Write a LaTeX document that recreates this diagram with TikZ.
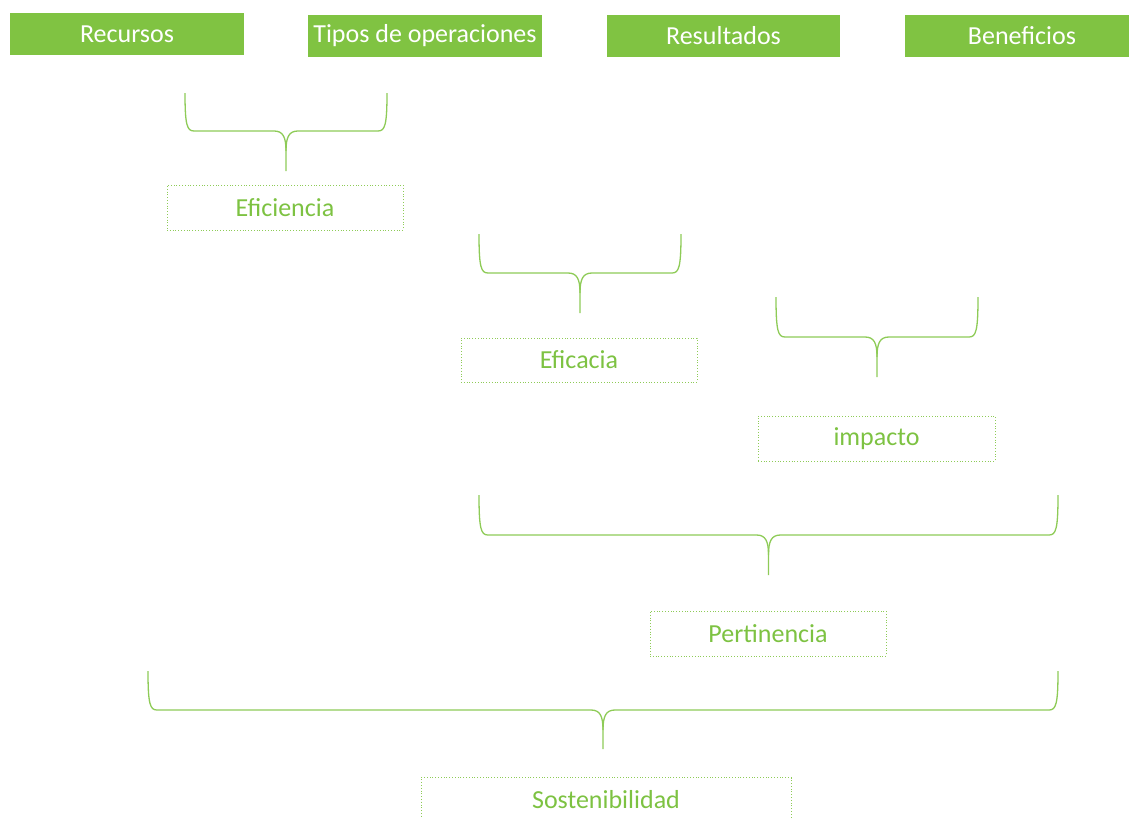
\documentclass[tikz,border=0pt]{standalone}
\usepackage{fontspec}
\setmainfont{Carlito}
\usepackage{tikz}
\definecolor{headGreen}{HTML}{80C342}
\definecolor{lineGreen}{HTML}{8ECB57}
\definecolor{textGreen}{HTML}{7DC242}

\begin{document}
\begin{tikzpicture}[
    x=1pt, y=-1pt,
    header/.style={rectangle, fill=headGreen, text=white, minimum width=234pt,
                   minimum height=42pt, inner sep=0pt, font=\fontsize{26}{31}\selectfont},
    result/.style={rectangle, draw=lineGreen, dotted, line width=0.8pt, text=textGreen,
                   minimum width=236pt, minimum height=45pt, inner sep=0pt,
                   font=\fontsize{26}{31}\selectfont},
    bracket/.style={draw=lineGreen, line width=1.3pt},
]
    \useasboundingbox (0,0) rectangle (1129,817);

    % Top row: headings
    \node[header] (recursos) at (127,34) {Recursos};
    \node[header] (tipos) at (425,36) {Tipos de operaciones};
    \node[header, minimum width=233pt] (resultados) at (723.5,36) {Resultados};
    \node[header] (beneficios) at (1022,36) {Beneficios};

    % Results
    \node[result] (eficiencia) at (285,207.5) {Eficiencia};
    \node[result, minimum height=44pt] (eficacia) at (579,360) {Eficacia};
    \node[result, minimum width=237pt] (impacto) at (876.5,438.5) {impacto};
    \node[result] (pertinencia) at (768,633.5) {Pertinencia};
    \node[result, minimum width=370pt] (sostenibilidad) at (606,800) {Sostenibilidad};

    % Braces: left/right/top/middle/tip
    \foreach \l/\r/\t/\h/\b in {185/387/93/131/171, 479/681/234/273/313,
                                776/978/297/337/377, 479/1058/495/535/575,
                                148/1058/671/710/749}{
        \pgfmathsetmacro{\cx}{(\l+\r)/2}
        \draw[bracket] (\l,\t) .. controls (\l,\h-6) and (\l+2,\h) .. (\l+9,\h)
            -- (\cx-12,\h) .. controls (\cx-3,\h) and (\cx,\h+6) .. (\cx,\h+20) -- (\cx,\b);
        \draw[bracket] (\r,\t) .. controls (\r,\h-6) and (\r-2,\h) .. (\r-9,\h)
            -- (\cx+12,\h) .. controls (\cx+3,\h) and (\cx,\h+6) .. (\cx,\h+20);
    }
\end{tikzpicture}
\end{document}
